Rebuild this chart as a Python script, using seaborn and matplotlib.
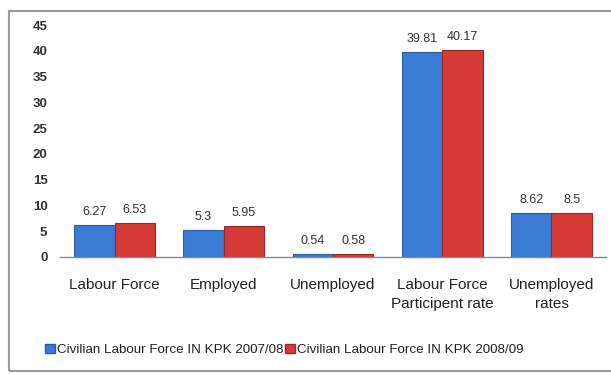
import matplotlib
matplotlib.use("Agg")
import matplotlib.pyplot as plt
from matplotlib.patches import Rectangle
import seaborn as sns
import pandas as pd

categories = ["Labour Force", "Employed", "Unemployed",
              "Labour Force\nParticipent rate", "Unemployed\nrates"]
series_names = ["Civilian Labour Force IN KPK 2007/08",
                "Civilian Labour Force IN KPK 2008/09"]
values_2007 = [6.27, 5.3, 0.54, 39.81, 8.62]
values_2008 = [6.53, 5.95, 0.58, 40.17, 8.5]
value_labels_2007 = ["6.27", "5.3", "0.54", "39.81", "8.62"]
value_labels_2008 = ["6.53", "5.95", "0.58", "40.17", "8.5"]
y_ticks = [0, 5, 10, 15, 20, 25, 30, 35, 40, 45]

df = pd.DataFrame({
    "category": categories * 2,
    "value": values_2007 + values_2008,
    "series": [series_names[0]] * len(categories) + [series_names[1]] * len(categories),
})

sns.set_theme(style="white")
plt.rcParams["font.family"] = ["Liberation Sans", "DejaVu Sans"]

fig = plt.figure(figsize=(6.11, 3.74), dpi=100)
ax = fig.add_axes([0.098, 0.313, 0.894, 0.62])

blue = "#3A7BD5"
red = "#D63A36"
sns.barplot(data=df, x="category", y="value", hue="series",
            palette=[blue, red], saturation=1, width=0.74, ax=ax,
            edgecolor=None, linewidth=0)

containers = ax.containers
edge_cols = ["#2B5C9C", "#9C2825"]
for cont, edge in zip(containers, edge_cols):
    for bar in cont:
        bar.set_edgecolor(edge)
        bar.set_linewidth(0.8)

ax.bar_label(containers[0], labels=value_labels_2007, padding=5,
             fontsize=9, color="#333333")
ax.bar_label(containers[1], labels=value_labels_2008, padding=5,
             fontsize=9, color="#333333")

ax.set_ylim(0, 45)
ax.set_yticks(y_ticks)
ax.set_yticklabels([str(t) for t in y_ticks], fontsize=9.5, fontweight="bold",
                   color="#333333")
ax.tick_params(axis="y", length=0, pad=9)
ax.tick_params(axis="x", length=0, pad=15, labelsize=11, labelcolor="#222222")
for lbl in ax.get_xticklabels():
    lbl.set_linespacing(1.45)
ax.set_xlabel("")
ax.set_ylabel("")
for side in ["top", "right", "left"]:
    ax.spines[side].set_visible(False)
ax.spines["bottom"].set_color("#7F8A99")
ax.spines["bottom"].set_linewidth(1.0)

ax.get_legend().remove()
handles = [Rectangle((0, 0), 1, 1, facecolor=blue, edgecolor=edge_cols[0]),
           Rectangle((0, 0), 1, 1, facecolor=red, edgecolor=edge_cols[1])]
fig.legend(handles, series_names, loc="center", ncol=2,
           bbox_to_anchor=(0.466, 0.064), frameon=False, fontsize=9.6,
           handlelength=0.7, handleheight=0.7, handletextpad=0.2,
           columnspacing=0.1, labelcolor="#222222")

# chart frame
fig.patches.append(Rectangle((9 / 611, 3 / 374), 1.0, 360 / 374,
                             transform=fig.transFigure, fill=False,
                             edgecolor="#9A9A9A", linewidth=1.5))

fig.savefig("out.png", dpi=100)
